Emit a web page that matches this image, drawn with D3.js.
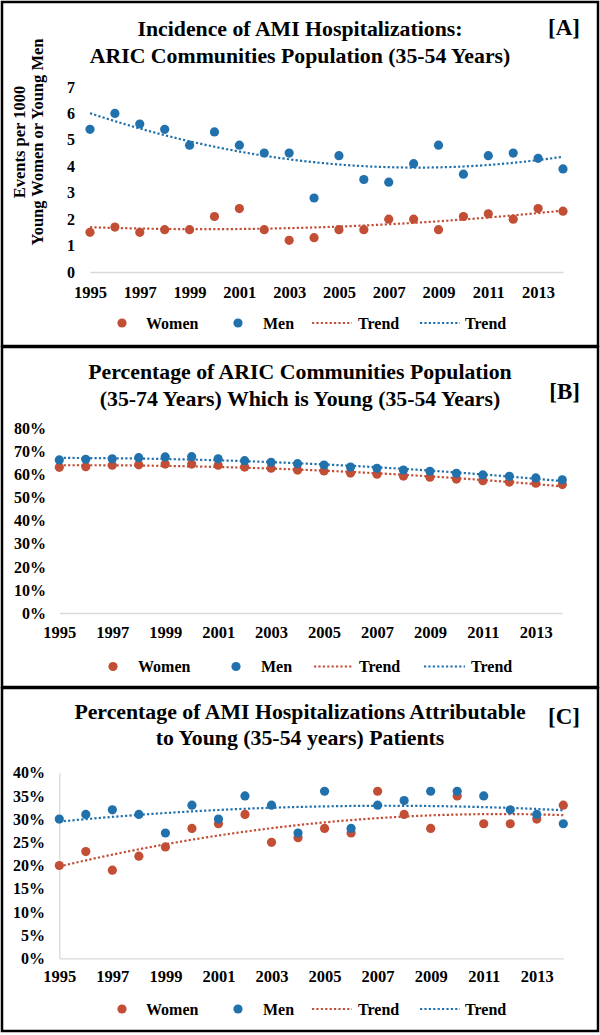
<!DOCTYPE html>
<html><head><meta charset="utf-8">
<script src="https://cdn.jsdelivr.net/npm/d3@7"></script>
<style>
body{margin:0;background:#fff}
svg{display:block}
text{font-family:"Liberation Serif","Times New Roman",serif;font-weight:bold;fill:#000}
</style>
</head><body>
<svg id="c" width="600" height="1035"></svg>
<script>
// ---------- data ----------
const years = [1995,1996,1997,1998,1999,2000,2001,2002,2003,2004,2005,2006,2007,2008,2009,2010,2011,2012,2013,2014];
const xTickYears = [1995,1997,1999,2001,2003,2005,2007,2009,2011,2013];

// [A] incidence per 1000
const incWomen = [1.5,1.7,1.5,1.6,1.6,2.1,2.4,1.6,1.2,1.3,1.6,1.6,2.0,2.0,1.6,2.1,2.2,2.0,2.4,2.3];
const incMen   = [5.4,6.0,5.6,5.4,4.8,5.3,4.8,4.5,4.5,2.8,4.4,3.5,3.4,4.1,4.8,3.7,4.4,4.5,4.3,3.9];
const ticksA = [0,1,2,3,4,5,6,7];

// [B] % of population young
const popWomen = [63.2,63.5,64.1,64.3,64.6,64.6,64.1,63.3,62.8,62.0,61.6,60.7,60.2,59.4,58.9,58.1,57.4,56.8,56.3,55.7];
const popMen   = [66.4,66.7,66.9,67.4,67.7,67.8,66.9,66.1,65.4,64.8,64.2,63.3,62.8,62.0,61.5,60.6,59.9,59.3,58.6,57.8];
const ticksB = [0,10,20,30,40,50,60,70,80];

// [C] % of AMI hospitalizations attributable to young
const attWomen = [20,23,19,22,24,28,29,31,25,26,28,27,36,31,28,35,29,29,30,33];
const attMen   = [30,31,32,31,27,33,30,35,33,27,36,28,33,34,36,36,35,32,31,29];
const ticksC = [0,5,10,15,20,25,30,35,40];

const legendLabels = ["Women","Men","Trend","Trend"];

// ---------- style ----------
const RED = "#C24E36", BLUE = "#2171AD", GRID = "#D9D9D9";

const svg = d3.select("#c");

function T(sel, x, y, s, size, anchor) {
  return sel.append("text")
    .attr("x", x).attr("y", y)
    .attr("text-anchor", anchor)
    .style("font-size", size + "px")
    .text(s);
}

// quadratic least squares fit (Excel polynomial trendline, order 2)
function quadFit(xs, ys) {
  let n = xs.length, s = [0,0,0,0,0], t = [0,0,0];
  for (let i = 0; i < n; i++) {
    const x = xs[i], y = ys[i];
    for (let k = 0; k < 5; k++) s[k] += Math.pow(x, k);
    for (let k = 0; k < 3; k++) t[k] += Math.pow(x, k) * y;
  }
  const M = [[s[0],s[1],s[2],t[0]],[s[1],s[2],s[3],t[1]],[s[2],s[3],s[4],t[2]]];
  for (let i = 0; i < 3; i++) {
    for (let j = i + 1; j < 3; j++) {
      const f = M[j][i] / M[i][i];
      for (let k = i; k < 4; k++) M[j][k] -= f * M[i][k];
    }
  }
  const c = [0,0,0];
  for (let i = 2; i >= 0; i--) {
    let v = M[i][3];
    for (let k = i + 1; k < 3; k++) v -= M[i][k] * c[k];
    c[i] = v / M[i][i];
  }
  return x => c[0] + c[1]*x + c[2]*x*x;
}

const panels = [
  { women: incWomen, men: incMen, ticks: ticksA, fmt: d => d,
    top: 2, bottom: 346, x0: 90, x1: 563, y0: 272, y1: 87, labRight: 75, yLine: false,
    titles: ["Incidence of AMI Hospitalizations:", "ARIC Communities Population (35-54 Years)"],
    titleY: [36, 62.5], tag: "[A]", tagY: 35, xlabY: 297.5, legY: 323,
    leg: {d1: 122, t1: 146, d2: 238, t2: 263, l1: [312, 352], t3: 358, l2: [420, 460], t4: 465},
    yTitle: ["Events per 1000", "Young Women or Young Men"] },
  { women: popWomen, men: popMen, ticks: ticksB, fmt: d => d + "%",
    top: 347, bottom: 687, x0: 59.3, x1: 562.3, y0: 613, y1: 428.6, labRight: 46, yLine: false,
    titles: ["Percentage of ARIC Communities Population", "(35-74 Years) Which is Young (35-54 Years)"],
    titleY: [379, 405.5], tag: "[B]", tagY: 399, xlabY: 637.5, legY: 666.5,
    leg: {d1: 113, t1: 138, d2: 236, t2: 261, l1: [314, 352], t3: 359, l2: [424, 465], t4: 471} },
  { women: attWomen, men: attMen, ticks: ticksC, fmt: d => d + "%",
    top: 688, bottom: 1031, x0: 59.3, x1: 563.3, y0: 958.3, y1: 772.7, labRight: 45, yLine: true,
    titles: ["Percentage of AMI Hospitalizations Attributable", "to Young (35-54 years) Patients"],
    titleY: [718.5, 745], tag: "[C]", tagY: 724, xlabY: 982.5, legY: 1009,
    leg: {d1: 122, t1: 146, d2: 238, t2: 263, l1: [312, 352], t3: 358, l2: [420, 460], t4: 465} }
];

panels.forEach(p => {
  const g = svg.append("g");
  // frame
  g.append("rect").attr("x", 2).attr("y", p.top).attr("width", 596).attr("height", p.bottom - p.top)
    .attr("fill", "none").attr("stroke", "#000").attr("stroke-width", 2.5);

  // titles
  T(g, 300, p.titleY[0], p.titles[0], 21.8, "middle");
  T(g, 300, p.titleY[1], p.titles[1], 21.8, "middle");
  T(g, 580, p.tagY, p.tag, 23, "end");

  const x = d3.scaleLinear().domain([years[0], years[years.length - 1]]).range([p.x0, p.x1]);
  const y = d3.scaleLinear().domain([p.ticks[0], p.ticks[p.ticks.length - 1]]).range([p.y0, p.y1]);

  // x axis
  const xa = g.append("g").attr("transform", `translate(0,${p.y0})`)
    .call(d3.axisBottom(x).tickValues(xTickYears).tickFormat(d3.format("d")).tickSize(0).tickSizeOuter(0));
  xa.select(".domain").attr("stroke", GRID).attr("stroke-width", 1.3);
  xa.selectAll("text").attr("y", p.xlabY - p.y0).attr("dy", null)
    .style("font-size", "16.5px");
  xa.attr("font-family", null).attr("font-size", null);

  // y axis
  const ya = g.append("g").attr("transform", `translate(${p.x0},0)`)
    .call(d3.axisLeft(y).tickValues(p.ticks).tickFormat(p.fmt).tickSize(0).tickSizeOuter(0));
  if (p.yLine) ya.select(".domain").attr("stroke", GRID).attr("stroke-width", 1.3);
  else ya.select(".domain").remove();
  ya.selectAll("text").attr("x", p.labRight - p.x0)
    .style("font-size", "16px");
  ya.attr("font-family", null).attr("font-size", null);

  // trend lines
  const ts = years.map(d => d - years[0]);
  const fine = d3.range(0, ts[ts.length - 1] + 0.001, 0.25);
  [[p.women, RED], [p.men, BLUE]].forEach(([vals, col]) => {
    const f = quadFit(ts, vals);
    const line = d3.line().x(t => x(years[0] + t)).y(t => y(f(t)));
    g.append("path").attr("d", line(fine)).attr("fill", "none").attr("stroke", col)
      .attr("stroke-width", 2.2).attr("stroke-dasharray", "2.2,2.2");
  });

  // points
  [[p.women, RED], [p.men, BLUE]].forEach(([vals, col]) => {
    g.append("g").selectAll("circle").data(vals).join("circle")
      .attr("cx", (d, i) => x(years[i])).attr("cy", d => y(d)).attr("r", 4.6).attr("fill", col);
  });

  // y title
  if (p.yTitle) {
    const cy = 142;
    g.append("text").attr("transform", `translate(24.5,${cy}) rotate(-90)`).attr("text-anchor", "middle")
      .style("font-size", "16.5px").text(p.yTitle[0]);
    g.append("text").attr("transform", `translate(42.5,${cy}) rotate(-90)`).attr("text-anchor", "middle")
      .style("font-size", "16.5px").text(p.yTitle[1]);
  }

  // legend
  const L = p.leg, ly = p.legY, fs = 16, off = 5.5;
  g.append("circle").attr("cx", L.d1).attr("cy", ly).attr("r", 4.6).attr("fill", RED);
  T(g, L.t1, ly + off, legendLabels[0], fs, "start");
  g.append("circle").attr("cx", L.d2).attr("cy", ly).attr("r", 4.6).attr("fill", BLUE);
  T(g, L.t2, ly + off, legendLabels[1], fs, "start");
  g.append("line").attr("x1", L.l1[0]).attr("x2", L.l1[1]).attr("y1", ly).attr("y2", ly)
    .attr("stroke", RED).attr("stroke-width", 2.2).attr("stroke-dasharray", "2.2,2.2");
  T(g, L.t3, ly + off, legendLabels[2], fs, "start");
  g.append("line").attr("x1", L.l2[0]).attr("x2", L.l2[1]).attr("y1", ly).attr("y2", ly)
    .attr("stroke", BLUE).attr("stroke-width", 2.2).attr("stroke-dasharray", "2.2,2.2");
  T(g, L.t4, ly + off, legendLabels[3], fs, "start");
});
</script>
</body></html>
